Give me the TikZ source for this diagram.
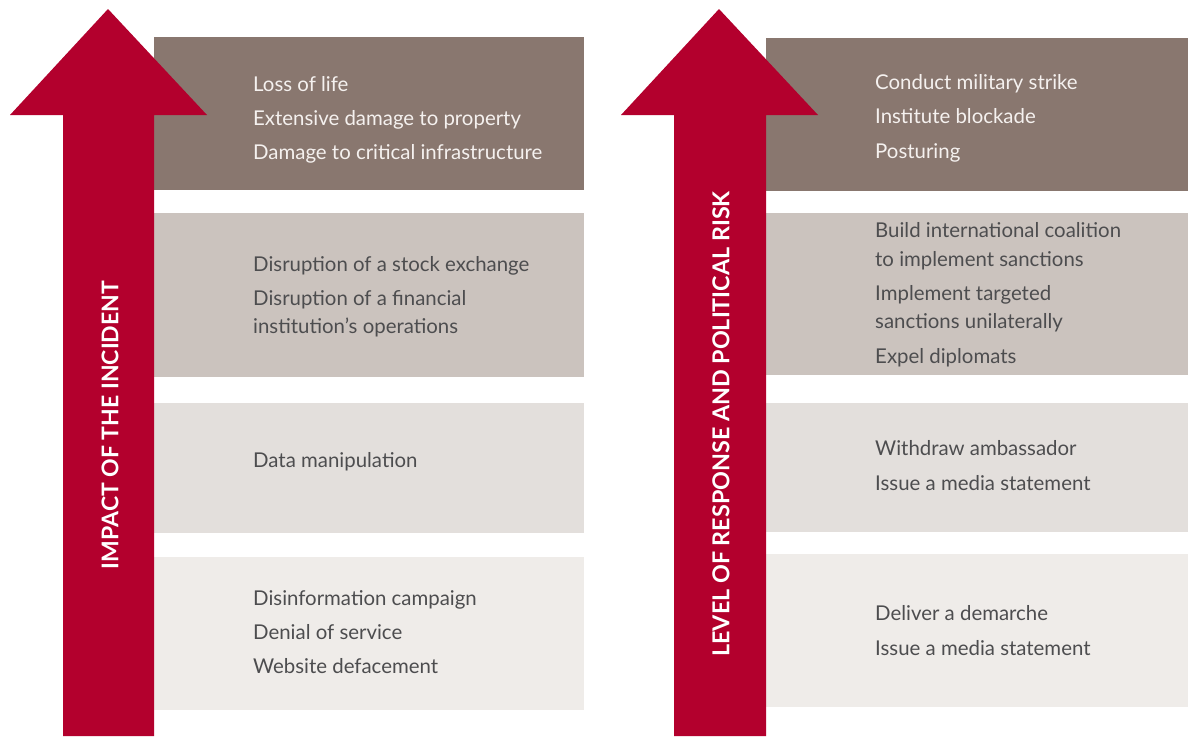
\documentclass[tikz,border=0pt]{standalone}
\usepackage{fontspec}
\setmainfont{Lato}
\definecolor{arrowred}{HTML}{B3002D}
\definecolor{boxA}{HTML}{89776F}
\definecolor{boxB}{HTML}{CBC3BE}
\definecolor{boxC}{HTML}{E3DFDC}
\definecolor{boxD}{HTML}{EFECE9}
\definecolor{textgrey}{HTML}{4D4D4F}
\definecolor{textlight}{HTML}{F5F1EF}
\begin{document}
\begin{tikzpicture}[x=1pt,y=-1pt,
  item/.style={anchor=base west, inner sep=0pt, font=\fontsize{20.4}{26}\selectfont, text=textgrey},
  itemlight/.style={item, text=textlight},
  axislabel/.style={rotate=90, inner sep=0pt, font=\fontsize{23}{28}\selectfont\bfseries, text=white}]
\useasboundingbox (0,0) rectangle (1188,736);
% left boxes
\fill[boxA] (154,37) rectangle (584,190);
\fill[boxB] (154,213) rectangle (584,377);
\fill[boxC] (154,403) rectangle (584,533);
\fill[boxD] (154,557) rectangle (584,710);
% right boxes
\fill[boxA] (766,38) rectangle (1188,191);
\fill[boxB] (766,213) rectangle (1188,375);
\fill[boxC] (766,403) rectangle (1188,532);
\fill[boxD] (766,554) rectangle (1188,707);
% arrows
\fill[arrowred] (63,736) -- (63,115) -- (10,115) -- (108,9) -- (207,115) -- (154,115) -- (154,736) -- cycle;
\fill[arrowred] (674,736) -- (674,115) -- (621,115) -- (719,9) -- (818,115) -- (766,115) -- (766,736) -- cycle;
\node[axislabel] (impact) at (110,425) {IMPACT OF THE INCIDENT};
\node[axislabel, font=\fontsize{23.3}{28}\selectfont\bfseries] (level) at (721,424) {LEVEL OF RESPONSE AND POLITICAL RISK};
% left texts
\node[itemlight] (l1a) at (253,91) {Loss of life};
\node[itemlight] (l1b) at (253,125) {Extensive damage to property};
\node[itemlight] (l1c) at (253,159) {Damage to critical infrastructure};
\node[item] (l2a) at (253,271) {Disruption of a stock exchange};
\node[item] (l2b) at (253,305) {Disruption of a financial};
\node[item] (l2c) at (253,333) {institution’s operations};
\node[item] (l3a) at (253,467) {Data manipulation};
\node[item] (l4a) at (253,605) {Disinformation campaign};
\node[item] (l4b) at (253,639) {Denial of service};
\node[item] (l4c) at (253,673) {Website defacement};
% right texts
\node[itemlight] (r1a) at (875,89) {Conduct military strike};
\node[itemlight] (r1b) at (875,123) {Institute blockade};
\node[itemlight] (r1c) at (875,158) {Posturing};
\node[item] (r2a) at (875,237) {Build international coalition};
\node[item] (r2b) at (875,266) {to implement sanctions};
\node[item] (r2c) at (875,300) {Implement targeted};
\node[item] (r2d) at (875,328) {sanctions unilaterally};
\node[item] (r2e) at (875,363) {Expel diplomats};
\node[item] (r3a) at (875,455) {Withdraw ambassador};
\node[item] (r3b) at (875,490) {Issue a media statement};
\node[item] (r4a) at (875,620) {Deliver a demarche};
\node[item] (r4b) at (875,655) {Issue a media statement};
\end{tikzpicture}
\end{document}
